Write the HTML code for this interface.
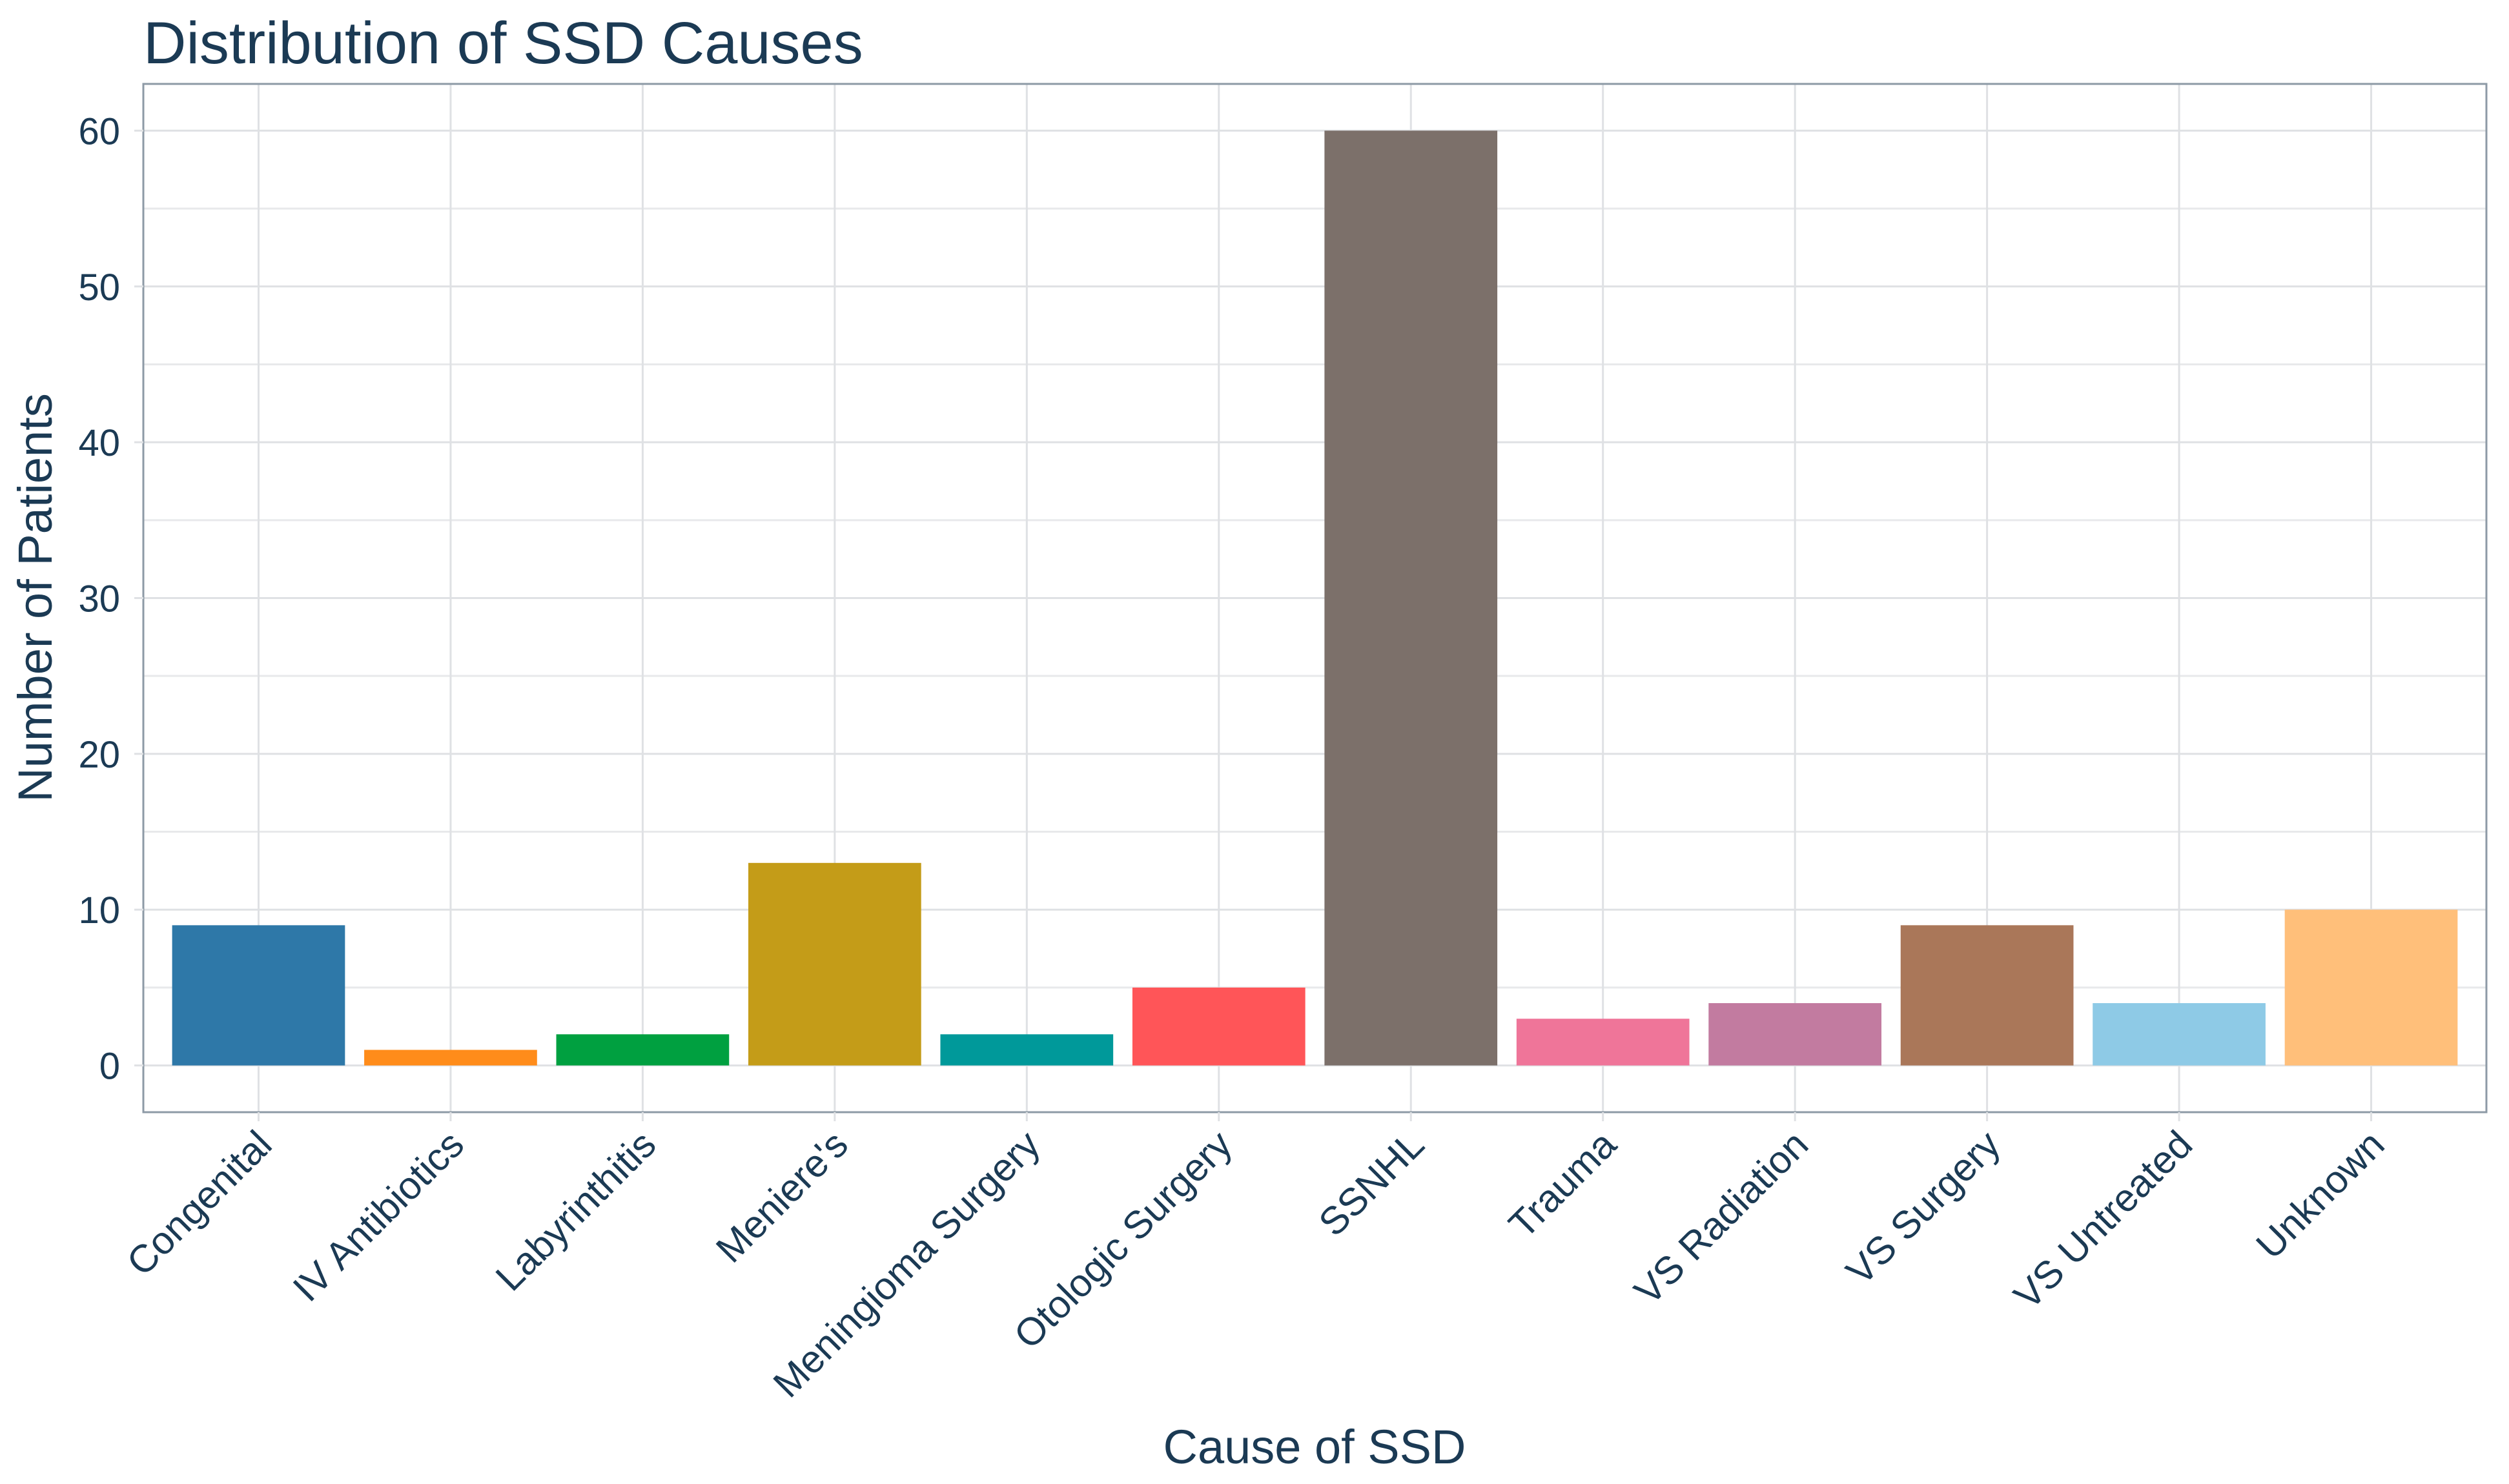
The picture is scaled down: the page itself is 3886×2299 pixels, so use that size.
<!DOCTYPE html>
<html><head><meta charset="utf-8">
<style>
html,body{margin:0;padding:0;background:#fff;}
svg{display:block;font-family:"Liberation Sans",sans-serif;}
</style></head>
<body>
<svg id="chart" width="3886" height="2299" viewBox="0 0 3886 2299">
<rect width="3886" height="2299" fill="#fff"/>
<text x="222" y="98" font-size="92" fill="#1b3a54">Distribution of SSD Causes</text>
<g id="grid"></g>
<g id="bars"></g>
<rect x="222" y="130" width="3629" height="1593" fill="none" stroke="#8d9aa6" stroke-width="3"/>
<g id="yticks"></g>
<g id="xticks"></g>
<text transform="translate(80,926) rotate(-90)" text-anchor="middle" font-size="74" fill="#1b3a54">Number of Patients</text>
<text x="2036" y="2267" text-anchor="middle" font-size="74" fill="#1b3a54">Cause of SSD</text>
</svg>
<script>
const categories = ["Congenital","IV Antibiotics","Labyrinthitis","Meniere's","Meningioma Surgery","Otologic Surgery","SSNHL","Trauma","VS Radiation","VS Surgery","VS Untreated","Unknown"];
const values = [9,1,2,13,2,5,60,3,4,9,4,10];
const colors = ["#2e78a8","#ff8c1a","#00a040","#c49c18","#00999a","#ff5558","#7c706a","#ef7599","#c27ba0","#aa7759","#8ecae6","#ffbf7a"];
const yTicks = [0,10,20,30,40,50,60];
const yMinor = [5,15,25,35,45,55];

const NS = "http://www.w3.org/2000/svg";
const L = 222, R = 3851, T = 130, B = 1723;
const yMin = -3, yMax = 63;
function y(v){ return B - (v - yMin) / (yMax - yMin) * (B - T); }
const step = (R - L) / (categories.length + 0.2);
function x(i){ return L + step * (0.6 + i); }
function mk(tag, attrs, parent){ const e = document.createElementNS(NS, tag); for (const k in attrs) e.setAttribute(k, attrs[k]); parent.appendChild(e); return e; }

const grid = document.getElementById('grid');
yMinor.forEach(v => {
  const l = mk('line', {x1:L, x2:R, y1:y(v), y2:y(v), stroke:'#e8e9eb', 'stroke-width':3}, grid);
  
  
});
yTicks.forEach(v => {
  const l = mk('line', {x1:L, x2:R, y1:y(v), y2:y(v), stroke:'#dfe1e4', 'stroke-width':3}, grid);
  
  
});
categories.forEach((c, i) => {
  const l = mk('line', {x1:x(i), x2:x(i), y1:T, y2:B, stroke:'#dfe1e4', 'stroke-width':3}, grid);
  
  
});

const bars = document.getElementById('bars');
const bw = step * 0.9;
values.forEach((v, i) => {
  const r = mk('rect', {x:x(i) - bw/2, y:y(v), width:bw, height:y(0) - y(v), fill:colors[i]}, bars);
  
  
});

const yt = document.getElementById('yticks');
yTicks.forEach(v => {
  const tk = mk('line', {x1:L - 14, x2:L, y1:y(v), y2:y(v), stroke:'#dfe1e4', 'stroke-width':3}, yt);
  
  
  const t = mk('text', {x:L - 36, y:y(v) + 21, 'text-anchor':'end', 'font-size':58, fill:'#1b3a54'}, yt);
  t.textContent = v;
  
  
});

const xt = document.getElementById('xticks');
categories.forEach((c, i) => {
  const tk = mk('line', {x1:x(i), x2:x(i), y1:B, y2:B + 14, stroke:'#dfe1e4', 'stroke-width':3}, xt);
  
  
  const t = mk('text', {transform:'translate(' + (x(i) + 24) + ',' + (B + 54) + ') rotate(-45)', 'text-anchor':'end', 'font-size':60, fill:'#1b3a54'}, xt);
  t.textContent = c;
  
  
});
</script>
</body></html>
